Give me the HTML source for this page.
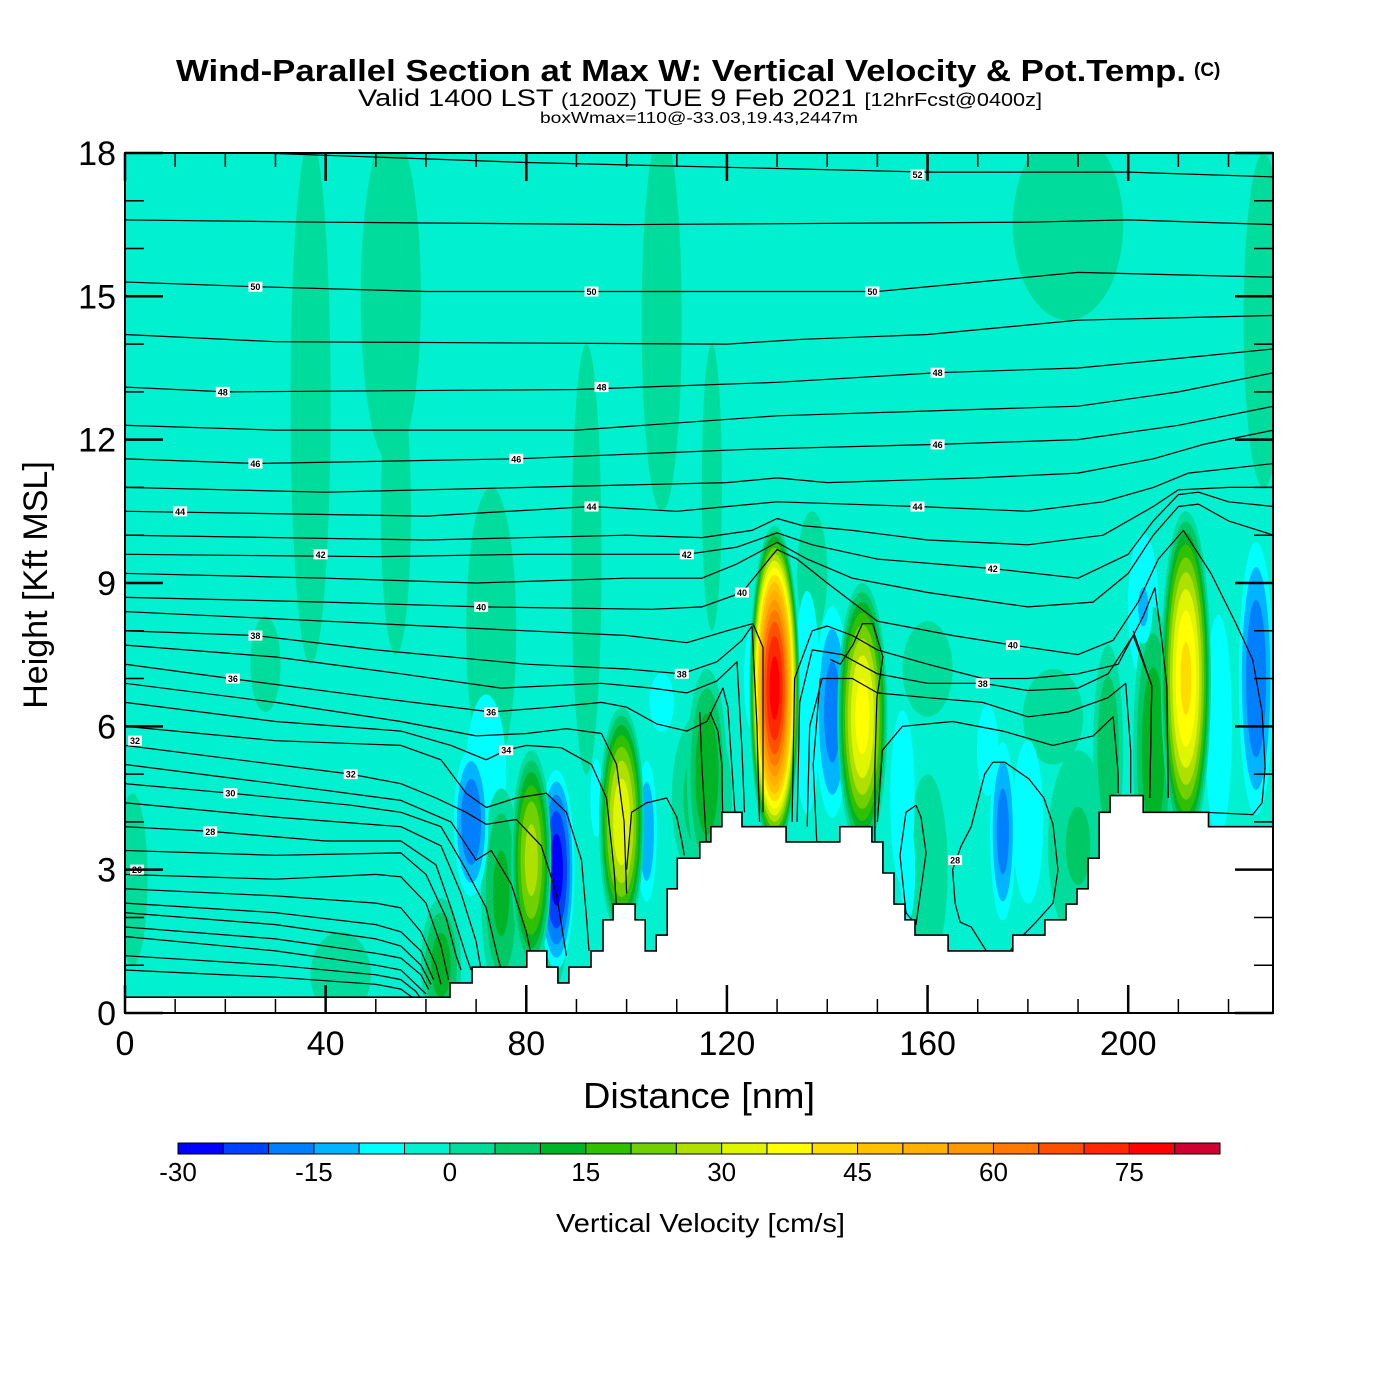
<!DOCTYPE html>
<html><head><meta charset="utf-8"><title>Wind-Parallel Section</title>
<style>
html,body{margin:0;padding:0;background:#fff;}
svg{display:block;font-family:"Liberation Sans",Arial,sans-serif;}
</style></head>
<body>
<svg id="chart" width="1400" height="1400" viewBox="0 0 1400 1400" xmlns="http://www.w3.org/2000/svg">
  <rect x="0" y="0" width="1400" height="1400" fill="#ffffff"/>
  <g>
    <text x="176" y="81" font-size="31" font-weight="bold" textLength="1010" lengthAdjust="spacingAndGlyphs">Wind-Parallel Section at Max W: Vertical Velocity &amp; Pot.Temp.</text>
    <text x="1194" y="76" font-size="19" font-weight="bold">(C)</text>
    <text x="358" y="106" font-size="24" textLength="684" lengthAdjust="spacingAndGlyphs">Valid 1400 LST <tspan font-size="18">(1200Z)</tspan> TUE 9 Feb 2021 <tspan font-size="18">[12hrFcst@0400z]</tspan></text>
    <text x="540" y="123" font-size="16" textLength="318" lengthAdjust="spacingAndGlyphs">boxWmax=110@-33.03,19.43,2447m</text>
  </g>
  <defs><clipPath id="plotClip"><rect x="125" y="153" width="1148" height="860"/></clipPath></defs>
  <g id="plot" clip-path="url(#plotClip)">
    <rect x="125" y="153" width="1148" height="860" fill="#00f0d0"/>
    <g id="cells"></g>
    <g id="contours"></g>
    <g id="terrain"></g>
    <g id="clabels"></g>
  </g>
  <rect x="125" y="153" width="1148" height="860" fill="none" stroke="#000" stroke-width="2"/>
  <g id="axes"></g>
  <text x="583" y="1108" font-size="36" textLength="232" lengthAdjust="spacingAndGlyphs">Distance [nm]</text>
  <text transform="translate(47,585) rotate(-90)" text-anchor="middle" font-size="34">Height [Kft MSL]</text>
  <g id="colorbar"></g>
  <text x="556" y="1232" font-size="26" textLength="289" lengthAdjust="spacingAndGlyphs">Vertical Velocity [cm/s]</text>
</svg>
<script>
// ---- data ----
const xTicks = [0, 40, 80, 120, 160, 200];
const yTicks = [0, 3, 6, 9, 12, 15, 18];
const cbEdges = [-30,-25,-20,-15,-10,-5,0,5,10,15,20,25,30,35,40,45,50,55,60,65,70,75,80,85];
const cbColors = ['#0000ff','#0040ff','#0080ff','#00b4ff','#00ffff','#00f0d0','#00dc9c','#00c864','#00b428','#30c000','#70d000','#b0e000','#e0f500','#ffff00','#ffdc00','#ffc000','#ffb000','#ff9800','#ff7800','#ff5000','#ff2800','#ff0000','#d00030'];
const cbTickLabels = [-30, -15, 0, 15, 30, 45, 60, 75];
// cells: [distance nm, height kft, half-width nm, half-height kft, peak cm/s]
const wCells = [
  [37,12.8,4,5.5,3],[53,15,6,3.5,3],[54,10.5,3,3,3],[73,8,5,3,3],[92,9.5,3,4.5,3],
  [107,14.5,4,4,3],[117,11,2,3,3],[137,9.2,3,1.3,3],[188,16.5,11,2,3],[227,14.5,4,3.5,3],
  [1.5,2.8,3,1.8,3],[43,0.8,6,0.9,3],[80,1.5,8,1.5,3],[28,7.3,3,1,3],
  [115,4.5,6,1.8,8],[190,3.5,6,2,6],[160,3,4,2,4],[185,6.2,6,1,3],[160,7.2,5,1,3],
  [72,5,6,2.5,-9],[107,6.5,4,1,-8],[136,6.5,4,3.5,-9],[155,4.5,4,3,-8],[172,5.5,4,1.8,-7],
  [180,4,5,2.8,-8],[218,6,4,3.5,-9],[203,8.5,5,2.5,-8],[125,7,3,2,-7],[94,4.5,3,2,-6],
  [63,1,4,1.4,13],[75,2.5,4,2.2,12],[116,5,4,2.2,15],[196,5.5,3,2.2,10],[205,5.5,4,3,15],
  [69,4,4,1.8,-20],[86,3,4,2.3,-28],[104,3.8,2.5,1.8,-15],[141,6.3,4,2.6,-18],[175,3.8,3,2.2,-18],
  [225.5,7,4,3.3,-20],[203,8.5,2.5,1,-12],[156,3,2.5,1.8,-8],
  [81,3.2,4,2.3,28],[99,4,4.5,2.4,35],[147,6.2,5,2.8,38],[211.5,7,5,3.5,42],[129.5,6.8,5,3.4,78]
];
// terrain step starts (nm) and heights (kft)
const terrainX = [0,64.8,69.2,80.1,84.1,86.3,88.5,92.9,95.3,97.3,101.7,103.7,105.9,108.1,110.1,114.6,116.8,119.0,123.0,131.8,142.5,148.9,151.1,153.3,155.5,157.5,164.1,177.0,183.4,187.6,189.8,192.0,194.2,196.4,203.0,216.0];
const terrainZ = [0.33,0.63,0.96,1.3,0.96,0.63,0.96,1.3,1.95,2.28,1.95,1.3,1.63,2.6,3.24,3.58,3.9,4.2,3.9,3.58,3.9,3.58,2.93,2.28,1.95,1.63,1.3,1.63,1.95,2.28,2.6,3.24,4.2,4.55,4.2,3.9];
// potential temperature contours: [nm, kft] points, null = break
const thetaLines = [
 [[0,18.1],[40,17.95],[80,17.8],[120,17.7],[160,17.6],[200,17.6],[229,17.5]],
 [[0,16.6],[40,16.55],[100,16.5],[180,16.55],[200,16.6],[229,16.5]],
 [[0,15.3],[26,15.2],[60,15.1],[150,15.1],[170,15.3],[190,15.5],[229,15.4]],
 [[0,14.2],[30,14.05],[120,14.0],[135,14.1],[160,14.2],[190,14.5],[229,14.6]],
 [[0,13.1],[20,13.0],[90,13.05],[130,13.2],[162,13.4],[190,13.5],[210,13.7],[229,13.9]],
 [[0,12.3],[30,12.2],[90,12.2],[130,12.5],[160,12.6],[190,12.7],[210,13.0],[229,13.4]],
 [[0,11.6],[26,11.5],[78,11.6],[125,11.8],[162,11.9],[190,12.0],[210,12.3],[229,12.7]],
 [[0,11.0],[40,10.9],[80,11.0],[120,11.1],[130,11.2],[140,11.1],[170,11.2],[190,11.3],[205,11.6],[215,11.9],[229,12.2]],
 [[0,10.5],[60,10.4],[93,10.6],[110,10.5],[130,10.7],[158,10.6],[180,10.5],[195,10.7],[205,11.0],[212,11.3],[229,11.5]],
 [[0,10.0],[60,9.9],[100,10.0],[115,9.95],[125,10.1],[130,10.35],[135,10.2],[145,10.1],[160,9.9],[180,9.8],[195,10.0],[205,10.6],[210,10.95],[220,11.0],[229,11.0]],
 [[0,9.6],[50,9.55],[80,9.6],[112,9.6],[122,9.75],[130,10.05],[137,9.8],[150,9.5],[173,9.3],[190,9.1],[200,9.6],[205,10.3],[210,10.85],[214,10.9],[220,10.7],[229,10.6]],
 [[0,9.2],[40,9.1],[70,9.0],[100,9.1],[115,9.1],[122,9.4],[130,9.85],[136,9.5],[145,9.1],[160,8.8],[180,8.5],[193,8.6],[200,9.2],[205,10.0],[210,10.6],[214,10.65],[220,10.3],[229,10.0]],
 [[0,8.7],[40,8.6],[71,8.5],[105,8.45],[115,8.5],[123,8.8],[130,9.7],[134,9.5],[140,9.0],[150,8.2],[165,7.9],[177,7.7],[190,7.5],[197,7.8],[202,8.6],[206,9.5],[211,10.1],[216.5,9.2],[221.5,8.15],[224.8,7.4],[226.7,6.3],[227.3,5.15],[226.7,4.4],[224.8,4.15],[215.6,4.2]],
 [[0,8.4],[40,8.2],[80,8.0],[100,7.9],[112,7.75],[120,8.0],[125.2,8.15],[127.2,7.65],[127.2,4.2],null,[133,4.0],[133.5,7.0],[137,8.0],[140,8.1],[145,7.9],[150,7.6],[160,7.3],[171,7.0],[180,7.0],[190,7.1],[198,7.3],[203,8.3],[205.3,8.9],[206.7,7.8],[207.7,6.85],[208,4.5]],
 [[0,8.0],[26,7.9],[50,7.6],[80,7.3],[100,7.2],[111,7.1],[118,7.35],[123,7.8],[125,8.1],[126,6],[126.5,4],null,[134,4],[134.5,6.5],[137,7.6],[143,7.5],[150,7.1],[160,6.9],[171,6.9],[180,6.75],[190,6.8],[196,7.1],[201,7.9],[204.7,6.85],[204.3,4.5]],
 [[0,7.7],[30,7.45],[55,7.1],[75,6.8],[95,6.9],[105,6.8],[112,6.7],[118,6.95],[122,7.35],[123,5.5],[123.5,4.2],null,[136,3.9],[136.5,6],[139,7.0],[145,7.0],[150,6.7],[160,6.6],[171,6.5],[180,6.2],[188,6.3],[196,6.6],[199.5,6.9],[200.5,5.5],[200.5,4.6]],
 [[0,7.3],[21,7.0],[50,6.6],[73,6.3],[85,6.4],[95,6.5],[100,6.4],[106,6.05],[112,5.9],[116,6.1],[119.2,6.8],[120.2,6.4],[121.6,4.2],null,[150,4],[151,5.5],[155,6.0],[165,6.1],[175,5.9],[185,5.6],[193,5.8],[197,6.2],[198,5.0],[198,4.6]],
 [[0,6.9],[30,6.5],[55,6.1],[70,5.8],[80,5.85],[88,5.95],[95,5.85],[98,5.2],[99.5,4],[100,2.5]],
 [[0,6.5],[30,6.1],[55,5.9],[65,5.6],[72,5.3],[76,5.5],[80,5.6],[87,5.55],[93,5.2],[96,4.5],[97.5,3],[98,2.2]],
 [[0,6.0],[30,5.7],[55,5.6],[63,5.3],[68,4.6],[72,4.3],[78,4.5],[84,4.6],[88,4.2],[91,3.2],[92,2.0],[92.5,1.3]],
 [[0,5.6],[45,5.0],[55,4.8],[62,4.5],[68,4.2],[72,3.95],[78,4.05],[83,3.5],[86,2.5],[88,1.2]],
 [[0,5.2],[30,4.8],[55,4.45],[65,4.0],[70,3.2],[73,3.4],[77,2.7],[80,1.7],[81,1.2]],
 [[0,4.8],[21,4.6],[45,4.35],[55,4.2],[63,3.9],[68,3.0],[72,2.2],[74,1.3],[75,0.9]],
 [[0,4.4],[30,4.1],[55,3.9],[63,3.5],[67,2.5],[70,1.5],[71,0.9]],
 [[0,3.9],[17,3.8],[40,3.6],[55,3.6],[62,3.1],[65,2.2],[68,1.2],[69,0.9]],
 [[0,3.4],[30,3.3],[55,3.35],[60,2.9],[64,2.0],[66,1.2],[67,0.9]],
 [[0,2.9],[30,2.8],[50,2.9],[55,2.85],[60,2.3],[63,1.4],[64.5,0.7]],
 [[0,2.6],[30,2.45],[50,2.3],[55,2.2],[59,1.7],[62,1.0],[63,0.6]],
 [[0,2.3],[30,2.1],[50,1.85],[55,1.7],[59,1.3],[61.5,0.7]],
 [[0,2.1],[30,1.85],[50,1.55],[55,1.4],[59,1.0],[61,0.6]],
 [[0,1.8],[30,1.55],[50,1.25],[55,1.15],[59,0.8],[60.5,0.5]],
 [[0,1.6],[30,1.3],[50,1.0],[55,0.9],[58,0.6],[60,0.4]],
 [[0,1.2],[30,1.0],[50,0.8],[55,0.7],[58,0.45],[59,0.3]],
 [[0,0.9],[30,0.75],[50,0.6],[55,0.5],[57,0.35],[58,0.3]],
 [[100,3.0],[101,4.2],[104,4.4],[108,4.5],[110,4.1],[111,3.6],[111.5,3.3]],
 [[114.6,6.3],[115,5.2],[116,3.4]],
 [[116.6,6.3],[118.2,5.9],[119,5.2],[119.2,3.8]],
 [[138.6,7.0],[137.2,5.2],[137.9,3.6]],
 [[140.6,7.4],[142.6,7.3],[145.1,7.7],[147,8.15],[149.1,8.15],[151.1,7.45],[149.9,6.6],[149.5,5.2],[149.5,3.6]],
 [[173,5.25],[175.4,5.25],[180.2,4.9],[183.2,4.5],[185,3.95],[186,3.0],[185,2.3],[181.6,1.9],[177.4,1.45],[176.2,1.25]],
 [[173,5.25],[171.4,5.0],[168.7,3.9],[166.7,3.5],[165,3.0],[165.5,2.3],[166.5,1.9],[168.7,1.8],[172,1.25]],
 [[157.7,4.35],[155.7,4.2],[154.5,3.3],[155.7,2.1],[157.7,1.85],[159.7,3.35],[158.7,4.1],[157.7,4.35]],
 [[201,8.0],[204.7,6.85],[204.3,4.5]]
];
// contour labels: [nm, kft, text]
const thetaLabels = [
 [26,15.2,'50'],[93,15.1,'50'],[149,15.1,'50'],[158,17.55,'52'],
 [19.5,13.0,'48'],[95,13.1,'48'],[162,13.4,'48'],
 [26,11.5,'46'],[78,11.6,'46'],[162,11.9,'46'],
 [11,10.5,'44'],[93,10.6,'44'],[158,10.6,'44'],
 [39,9.6,'42'],[112,9.6,'42'],[173,9.3,'42'],
 [71,8.5,'40'],[123,8.8,'40'],[177,7.7,'40'],
 [26,7.9,'38'],[111,7.1,'38'],[171,6.9,'38'],
 [21.5,7.0,'36'],[73,6.3,'36'],[76,5.5,'34'],
 [2,5.7,'32'],[45,5.0,'32'],[21,4.6,'30'],[17,3.8,'28'],[165.5,3.2,'28'],[2.4,3.0,'26']
];
// ---- scales ----
const X = nm => 125 + nm * 5.016;
const Y = k => 1013 - k * 47.78;
const NS = 'http://www.w3.org/2000/svg';
function mk(tag, attrs, parent) {
  const e = document.createElementNS(NS, tag);
  for (const k in attrs) e.setAttribute(k, attrs[k]);
  parent.appendChild(e);
  return e;
}
function colorFor(v) {
  for (let i = 0; i < cbColors.length; i++) if (v >= cbEdges[i] && v < cbEdges[i+1]) return cbColors[i];
  return cbColors[cbColors.length-1];
}
// cells
const cellsG = document.getElementById('cells');
wCells.forEach((c, ci) => {
  const [cx, cz, hw, hh, peak] = c;
  const g = mk('g', {}, cellsG);
  
  
  const levels = [];
  if (peak > 0) { for (let L = 0; L < peak; L += 5) levels.push(L); }
  else { for (let L = -5; L > peak; L -= 5) levels.push(L); }
  levels.forEach(L => {
    const s = Math.sqrt(1 - L / peak);
    const col = peak > 0 ? colorFor(L + 0.1) : colorFor(L - 0.1);
    const e = mk('ellipse', {cx: X(cx), cy: Y(cz), rx: hw * 5.016 * s, ry: hh * 47.78 * s, fill: col}, g);
    
    
  });
});
// contours
const contG = document.getElementById('contours');
thetaLines.forEach((pts, li) => {
  let d = '', start = true;
  pts.forEach(p => {
    if (p === null) { start = true; return; }
    d += (start ? 'M' : 'L') + X(p[0]).toFixed(1) + ',' + Y(p[1]).toFixed(1) + ' ';
    start = false;
  });
  const path = mk('path', {d: d, fill: 'none', stroke: '#000', 'stroke-width': 1.2, 'stroke-linejoin': 'round'}, contG);
  
  
});
// terrain
const terrG = document.getElementById('terrain');
let td = 'M' + X(0) + ',' + Y(0) + ' ';
for (let i = 0; i < terrainX.length; i++) {
  const x0 = X(terrainX[i]);
  const x1 = i + 1 < terrainX.length ? X(terrainX[i+1]) : 1274;
  td += 'L' + x0.toFixed(1) + ',' + Y(terrainZ[i]).toFixed(1) + ' L' + x1.toFixed(1) + ',' + Y(terrainZ[i]).toFixed(1) + ' ';
}
td += 'L1274,' + Y(0) + ' Z';
const terr = mk('path', {d: td, fill: '#fff', stroke: '#000', 'stroke-width': 1.6}, terrG);


// contour labels
const labG = document.getElementById('clabels');
thetaLabels.forEach(l => {
  const g = mk('g', {}, labG);
  
  
  mk('rect', {x: X(l[0]) - 7, y: Y(l[1]) - 5, width: 14, height: 10, fill: '#fff'}, g);
  const t = mk('text', {x: X(l[0]), y: Y(l[1]) + 3.5, 'text-anchor': 'middle', 'font-size': 9, 'font-weight': 'bold'}, g);
  t.textContent = l[2];
});
// axes
const axG = document.getElementById('axes');
for (let nm = 0; nm <= 228; nm += 10) {
  const major = nm % 40 === 0;
  const len = major ? 28 : 14;
  const x = X(nm);
  const t1 = mk('line', {x1: x, y1: 1013, x2: x, y2: 1013 - len, stroke: '#000', 'stroke-width': major ? 2.5 : 1.5}, axG);
  
  
  const t2 = mk('line', {x1: x, y1: 153, x2: x, y2: 153 + len, stroke: '#000', 'stroke-width': major ? 2.5 : 1.5}, axG);
  
  
}
for (let k = 0; k <= 18; k++) {
  const major = k % 3 === 0;
  const len = major ? 38 : 19;
  const y = Y(k);
  const t1 = mk('line', {x1: 125, y1: y, x2: 125 + len, y2: y, stroke: '#000', 'stroke-width': major ? 2.5 : 1.5}, axG);
  
  
  const t2 = mk('line', {x1: 1273, y1: y, x2: 1273 - len, y2: y, stroke: '#000', 'stroke-width': major ? 2.5 : 1.5}, axG);
  
  
}
xTicks.forEach(v => {
  const t = mk('text', {x: X(v), y: 1055, 'text-anchor': 'middle', 'font-size': 34}, axG);
  
  
  t.textContent = v;
});
yTicks.forEach(v => {
  const t = mk('text', {x: 116, y: Y(v) + 12, 'text-anchor': 'end', 'font-size': 34}, axG);
  
  
  t.textContent = v;
});
// colorbar
const cbG = document.getElementById('colorbar');
const cbX0 = 178, cbX1 = 1220, cbW = (cbX1 - cbX0) / cbColors.length;
const cbPos = v => cbX0 + (v - cbEdges[0]) / 5 * cbW;
cbColors.forEach((c, i) => {
  const r = mk('rect', {x: cbX0 + i * cbW, y: 1143, width: cbW, height: 11, fill: c, stroke: '#000', 'stroke-width': 1}, cbG);
  
  
});
cbTickLabels.forEach(v => {
  const t = mk('text', {x: cbPos(v), y: 1181, 'text-anchor': 'middle', 'font-size': 26}, cbG);
  
  
  t.textContent = v;
});
</script>
</body></html>
